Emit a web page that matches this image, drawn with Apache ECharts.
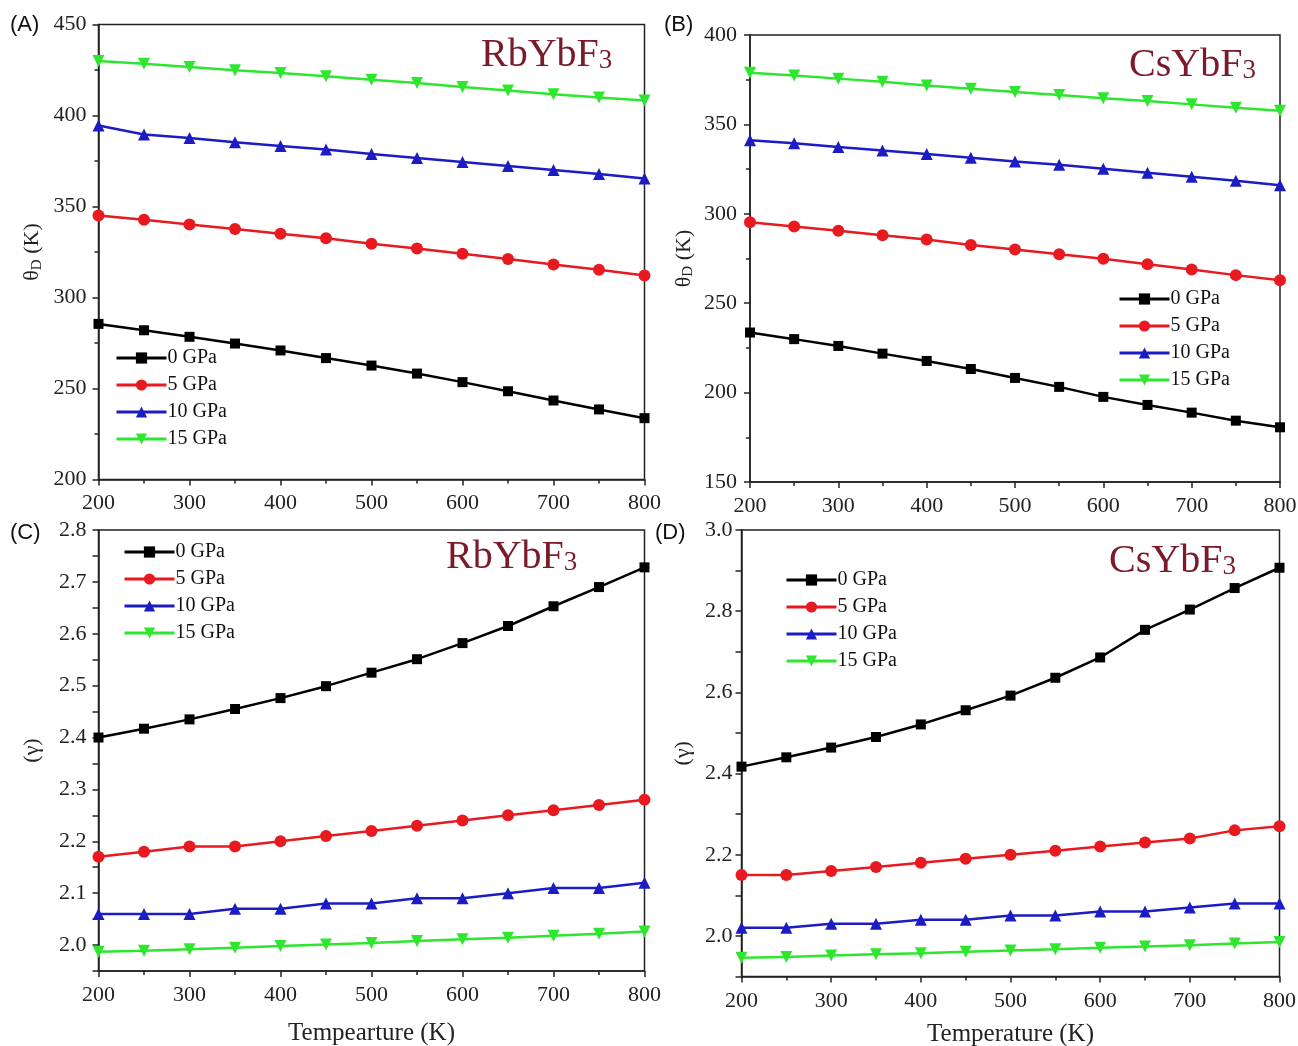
<!DOCTYPE html>
<html><head><meta charset="utf-8">
<script src="https://cdn.jsdelivr.net/npm/echarts@6/dist/echarts.min.js"></script>
<style>html,body{margin:0;padding:0;background:#fff}#c{width:1298px;height:1046px}</style>
</head><body><div id="c"></div>
<script>
var temps = [200,250,300,350,400,450,500,550,600,650,700,750,800];
var seriesNames = ['0 GPa','5 GPa','10 GPa','15 GPa'];

// (A) RbYbF3 Debye temperature
var A0 = [285.5,282,278.4,274.7,270.9,266.7,262.6,258.2,253.5,248.5,243.4,238.5,233.7];
var A5 = [345,342.7,340.1,337.7,335,332.6,329.5,326.9,324,321.2,318.1,315.2,312.1];
var A10 = [394.5,389.6,387.6,385.3,383.3,381.3,378.9,376.7,374.5,372.2,370,367.8,365.4];
var A15 = [429.9,428.4,426.7,424.9,423.3,421.6,419.6,417.8,415.6,413.7,411.7,409.9,408.2];
// (B) CsYbF3 Debye temperature
var B0 = [233.6,229.9,226.1,221.8,217.7,213.2,208.2,203.2,197.6,193.1,188.8,184.3,180.6];
var B5 = [295.3,292.9,290.5,288,285.6,282.6,280,277.4,274.8,271.8,268.8,265.7,262.9];
var B10 = [341.2,339.4,337.3,335.4,333.4,331.3,329.3,327.4,325.2,322.9,320.7,318.5,316];
var B15 = [378.9,377.4,375.6,373.9,371.8,370,368.1,366.4,364.6,363.1,361.2,359.3,357.6];
// (C) RbYbF3 Grüneisen parameter
var C0 = [2.400,2.417,2.435,2.455,2.476,2.499,2.525,2.551,2.582,2.615,2.653,2.690,2.728];
var C5 = [2.17,2.18,2.19,2.19,2.20,2.21,2.22,2.23,2.24,2.25,2.26,2.27,2.28];
var C10 = [2.06,2.06,2.06,2.07,2.07,2.08,2.08,2.09,2.09,2.10,2.11,2.11,2.12];
var C15 = [1.987,1.989,1.992,1.995,1.998,2.001,2.004,2.008,2.011,2.014,2.018,2.022,2.026];
// (D) CsYbF3 Grüneisen parameter
var D0 = [2.417,2.440,2.464,2.490,2.521,2.556,2.592,2.636,2.686,2.754,2.804,2.857,2.907];
var D5 = [2.15,2.15,2.16,2.17,2.18,2.19,2.20,2.21,2.22,2.23,2.24,2.26,2.27];
var D10 = [2.02,2.02,2.03,2.03,2.04,2.04,2.05,2.05,2.06,2.06,2.07,2.08,2.08];
var D15 = [1.946,1.948,1.952,1.955,1.957,1.961,1.964,1.967,1.971,1.974,1.977,1.981,1.985];

var colors = ['#000000','#e8191f','#1c1cc4','#2ee62e'];
var symbols = ['rect','circle','triangle','triangle'];
var rots = [0,0,0,180];
var sizes = [10,12,12,12];
var FONT = 'Liberation Serif';
var AX = '#222222';

function pairs(arr){ return temps.map(function(t,i){ return [t, arr[i]]; }); }

var grids = [
  {left:98.5, top:24.5, width:546, height:455},
  {left:750, top:35, width:530, height:447},
  {left:98.5, top:530, width:546, height:441},
  {left:741.5, top:530, width:538, height:446.5}
];

function xAxis(i, name, margin, gap){
  return {
    type:'value', gridIndex:i, min:200, max:800, interval:100,
    name: name || '', nameLocation:'middle', nameGap:gap || 50,
    nameTextStyle:{fontFamily:FONT, fontSize:25, color:AX},
    axisLine:{show:true, onZero:false, lineStyle:{color:AX, width:1.5}},
    axisTick:{show:true, length:6, lineStyle:{color:AX, width:1.5}},
    minorTick:{show:true, splitNumber:2, length:4, lineStyle:{color:AX, width:1.5}},
    splitLine:{show:false},
    axisLabel:{fontFamily:FONT, fontSize:22, color:AX, margin:margin}
  };
}
function yAxis(i, o){
  return {
    type:'value', gridIndex:i, min:o.min, max:o.max, interval:o.interval,
    name:o.name, nameLocation:'middle', nameGap:o.gap, nameRotate:90,
    nameTextStyle:{fontFamily:FONT, fontSize:22, color:AX,
      rich:{a:{fontFamily:FONT,fontSize:22,color:AX}, s:{fontFamily:FONT,fontSize:15,color:AX,padding:[0,0,-9,0]}}},
    axisLine:{show:true, onZero:false, lineStyle:{color:AX, width:1.5}},
    axisTick:{show:true, length:6, lineStyle:{color:AX, width:1.5}},
    minorTick:{show:!!o.minor, splitNumber:2, length:4, lineStyle:{color:AX, width:1.5}},
    splitLine:{show:false},
    axisLabel:{fontFamily:FONT, fontSize:22, color:AX, margin:o.margin, formatter:o.fmt}
  };
}

var series = [];
var data = [[A0,A5,A10,A15],[B0,B5,B10,B15],[C0,C5,C10,C15],[D0,D5,D10,D15]];
data.forEach(function(group, gi){
  group.forEach(function(arr, si){
    series.push({
      type:'line', name:seriesNames[si], xAxisIndex:gi, yAxisIndex:gi,
      data:pairs(arr), symbol:symbols[si], symbolRotate:rots[si],
      symbolSize:sizes[si], showAllSymbol:true,
      lineStyle:{color:colors[si], width:2.5},
      itemStyle:{color:colors[si]},
      legendHoverLink:false, animation:false, z:3+si
    });
  });
});

function legend(left, top){
  return {
    left:left, top:top, orient:'vertical', itemWidth:50, itemHeight:14, itemGap:5, padding:0,
    data:seriesNames, selectedMode:false,
    lineStyle:{width:3},
    textStyle:{fontFamily:FONT, fontSize:20, color:'#111', padding:[0,0,0,-4], lineHeight:22}
  };
}

function titleText(main, left, top){
  return {
    text:'{a|'+main+'}{s|3}', left:left, top:top, padding:0,
    textStyle:{fontWeight:'normal', rich:{
      a:{fontFamily:FONT,fontSize:40,fontWeight:'normal',color:'#7a1a2a'},
      s:{fontFamily:FONT,fontSize:27,fontWeight:'normal',color:'#7a1a2a',padding:[0,0,-12,0]}}}
  };
}

var fmt1 = function(v){ return Math.abs(v*10-Math.round(v*10))<1e-6 ? v.toFixed(1) : ''; };
var fmt2 = function(v){ var k=Math.round(v*10); return (Math.abs(v*10-k)<1e-6 && k%2===0) ? v.toFixed(1) : ''; };

var option = {
  backgroundColor:'#ffffff',
  animation:false,
  grid: grids.map(function(g){ return Object.assign({show:true, borderColor:AX, borderWidth:1.5, containLabel:false, outerBoundsMode:'none'}, g); }),
  title:[titleText('RbYbF',481,35), titleText('CsYbF',1129,45), titleText('RbYbF',446,537), titleText('CsYbF',1109,541)],
  xAxis:[xAxis(0,'',13), xAxis(1,'',13), xAxis(2,'Tempearture (K)',13,50), xAxis(3,'Temperature (K)',14,45)],
  yAxis:[
    yAxis(0,{min:200,max:450,interval:50,minor:true,name:'{a|θ}{s|D}{a| (K)}',gap:55,margin:12}),
    yAxis(1,{min:150,max:400,interval:50,minor:true,name:'{a|θ}{s|D}{a| (K)}',gap:55,margin:13}),
    yAxis(2,{min:1.95,max:2.8,interval:0.05,name:'(γ)',gap:55,margin:12,fmt:fmt1}),
    yAxis(3,{min:1.9,max:3.0,interval:0.1,name:'(γ)',gap:47,margin:9,fmt:fmt2})
  ],
  legend:[legend(115,347), legend(1118,288), legend(123,541), legend(785,569)],
  series:series,
  graphic:[
    {type:'text', left:10, top:14, style:{text:'(A)', font:'22px "Liberation Sans"', fill:'#111'}},
    {type:'text', left:664, top:14, style:{text:'(B)', font:'22px "Liberation Sans"', fill:'#111'}},
    {type:'text', left:10, top:522, style:{text:'(C)', font:'22px "Liberation Sans"', fill:'#111'}},
    {type:'text', left:655, top:522, style:{text:'(D)', font:'22px "Liberation Sans"', fill:'#111'}}
  ]
};

var chart = echarts.init(document.getElementById('c'), null, {renderer:'canvas'});
chart.setOption(option);
</script></body></html>
